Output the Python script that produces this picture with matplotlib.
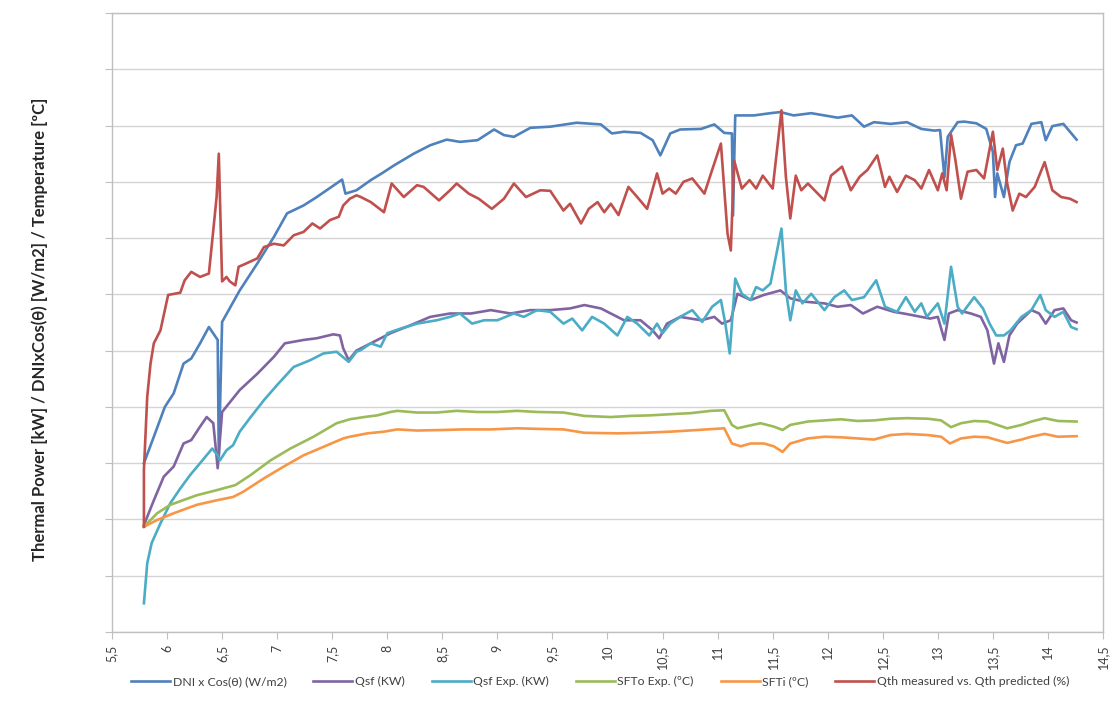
import matplotlib
matplotlib.use("Agg")
import matplotlib.pyplot as plt
from matplotlib.ticker import FuncFormatter, MultipleLocator

plt.rcParams['font.family'] = ['Lato', 'DejaVu Sans']

# time of day [h] and values for each series
t_dni = [5.79, 5.88, 5.98, 6.06, 6.15, 6.22, 6.30, 6.38, 6.46, 6.47, 6.50, 6.66, 6.82, 6.97, 7.09, 7.24,
         7.36, 7.59, 7.62, 7.72, 7.85, 7.95, 8.06, 8.24, 8.39, 8.54, 8.66, 8.82, 8.97, 9.06, 9.15, 9.30,
         9.48, 9.72, 9.94, 10.04, 10.15, 10.30, 10.41, 10.48, 10.57, 10.66, 10.85, 10.97, 11.06, 11.13,
         11.14, 11.16, 11.33, 11.48, 11.57, 11.69, 11.85, 11.97, 12.09, 12.22, 12.33, 12.42, 12.57, 12.72,
         12.85, 12.97, 13.02, 13.06, 13.09, 13.18, 13.24, 13.35, 13.44, 13.50, 13.52, 13.54, 13.60, 13.65,
         13.71, 13.77, 13.85, 13.94, 13.98, 14.04, 14.14, 14.20, 14.26]
dni = [300, 347, 400, 424, 477, 486, 513, 542, 519, 310, 551, 607, 655, 702, 744, 758,
       773, 804, 779, 785, 803, 815, 829, 850, 865, 875, 871, 874, 893, 883, 880, 896,
       898, 905, 902, 886, 889, 887, 874, 847, 886, 893, 894, 902, 887, 886,
       740, 918, 918, 922, 924, 918, 922, 918, 914, 918, 898, 906, 903, 906,
       894, 891, 892, 808, 880, 906, 907, 904, 894, 853, 773, 815, 773, 835,
       865, 868, 903, 906, 874, 899, 903, 889, 875]

t_qsf = [5.79, 5.88, 5.97, 6.06, 6.15, 6.22, 6.30, 6.36, 6.42, 6.46, 6.50, 6.66, 6.82, 6.97, 7.07, 7.24,
         7.36, 7.51, 7.57, 7.60, 7.65, 7.72, 7.85, 8.03, 8.21, 8.39, 8.57, 8.76, 8.94, 9.12, 9.30, 9.48,
         9.66, 9.79, 9.94, 10.03, 10.15, 10.30, 10.41, 10.47, 10.54, 10.66, 10.85, 10.97, 11.04, 11.12,
         11.18, 11.30, 11.42, 11.57, 11.66, 11.79, 11.97, 12.09, 12.21, 12.32, 12.45, 12.60, 12.69, 12.85,
         12.93, 13.00, 13.06, 13.10, 13.18, 13.30, 13.39, 13.45, 13.51, 13.55, 13.60, 13.65, 13.72, 13.85,
         13.92, 13.98, 14.06, 14.14, 14.21, 14.26]
qsf = [190, 234, 276, 294, 335, 341, 365, 382, 371, 291, 391, 430, 459, 489, 513, 519,
       522, 529, 527, 504, 483, 500, 513, 531, 545, 560, 566, 566, 572, 566, 572, 572,
       575, 581, 575, 566, 554, 554, 536, 522, 548, 560, 554, 560, 548, 554,
       601, 590, 599, 607, 593, 587, 584, 578, 581, 566, 578, 569, 566, 560,
       557, 560, 519, 566, 572, 566, 560, 536, 477, 513, 480, 527, 548, 572,
       566, 548, 572, 575, 554, 550]

t_qsf_exp = [5.79, 5.82, 5.86, 5.94, 6.03, 6.12, 6.21, 6.30, 6.41, 6.46, 6.48, 6.54, 6.60, 6.66, 6.76,
             6.88, 7.00, 7.15, 7.30, 7.42, 7.54, 7.65, 7.72, 7.76, 7.85, 7.94, 8.00, 8.12, 8.27, 8.45,
             8.57, 8.66, 8.77, 8.88, 9.00, 9.15, 9.24, 9.36, 9.48, 9.60, 9.68, 9.77, 9.86, 9.97, 10.09,
             10.18, 10.27, 10.38, 10.45, 10.50, 10.57, 10.66, 10.77, 10.86, 10.95, 11.03, 11.07, 11.11,
             11.16, 11.22, 11.30, 11.35, 11.41, 11.48, 11.58, 11.62, 11.66, 11.71, 11.77, 11.85, 11.97,
             12.06, 12.15, 12.22, 12.33, 12.44, 12.52, 12.63, 12.71, 12.79, 12.85, 12.90, 13.00, 13.06,
             13.12, 13.18, 13.22, 13.33, 13.41, 13.47, 13.53, 13.60, 13.66, 13.76, 13.85, 13.93, 13.98,
             14.06, 14.14, 14.21, 14.26]
qsf_exp = [51, 122, 158, 193, 229, 255, 279, 300, 326, 314, 305, 323, 332, 356, 382,
           412, 439, 471, 483, 495, 498, 480, 498, 501, 513, 507, 531, 539, 548, 554,
           560, 566, 548, 554, 554, 566, 560, 572, 569, 548, 557, 536, 560, 548, 527,
           560, 548, 527, 548, 531, 548, 560, 572, 551, 578, 590, 548, 495,
           628, 601, 590, 613, 607, 619, 717, 607, 554, 607, 584, 601, 572,
           595, 607, 590, 595, 625, 578, 569, 595, 569, 584, 560, 584, 548,
           649, 578, 566, 595, 575, 548, 527, 527, 536, 560, 572, 599, 572,
           560, 569, 542, 538]

t_sfto = [5.79, 5.91, 6.03, 6.27, 6.45, 6.62, 6.76, 6.94, 7.12, 7.33, 7.54, 7.66, 7.79, 7.91, 8.03,
          8.09, 8.27, 8.45, 8.63, 8.82, 9.00, 9.18, 9.36, 9.60, 9.79, 10.03, 10.21, 10.39, 10.57,
          10.76, 10.94, 11.06, 11.13, 11.18, 11.27, 11.39, 11.51, 11.59, 11.66, 11.82, 11.97, 12.12,
          12.27, 12.42, 12.57, 12.72, 12.91, 13.03, 13.12, 13.21, 13.33, 13.45, 13.54, 13.63, 13.76,
          13.85, 13.97, 14.09, 14.26]
sfto = [187, 211, 226, 243, 252, 261, 279, 305, 326, 347, 371, 378, 382, 385, 391,
        393, 390, 390, 393, 391, 391, 393, 391, 390, 384, 382, 384, 385, 387,
        389, 393, 394, 368, 362, 366, 371, 365, 359, 368, 374, 376, 378,
        375, 376, 379, 380, 379, 376, 364, 371, 375, 374, 368, 362, 368,
        374, 380, 375, 374]

t_sfti = [5.79, 5.91, 6.06, 6.27, 6.45, 6.60, 6.69, 6.88, 7.06, 7.24, 7.42, 7.60, 7.66, 7.82, 7.97,
          8.09, 8.27, 8.51, 8.69, 8.94, 9.18, 9.36, 9.60, 9.79, 10.09, 10.33, 10.57, 10.82, 11.06,
          11.13, 11.21, 11.30, 11.42, 11.51, 11.59, 11.66, 11.82, 11.97, 12.12, 12.27, 12.42, 12.57,
          12.72, 12.91, 13.03, 13.11, 13.21, 13.33, 13.45, 13.54, 13.63, 13.76, 13.85, 13.97, 14.09,
          14.26]
sfti = [187, 199, 211, 226, 234, 240, 249, 273, 294, 314, 329, 344, 347, 353, 356,
        360, 358, 359, 360, 360, 362, 361, 360, 354, 353, 354, 356, 359, 362,
        335, 330, 335, 335, 330, 320, 335, 344, 347, 346, 344, 342, 350,
        352, 350, 347, 335, 344, 347, 346, 341, 336, 342, 347, 352, 347,
        348]

t_qth = [5.79, 5.79, 5.82, 5.85, 5.88, 5.94, 6.01, 6.12, 6.16, 6.22, 6.30, 6.38, 6.42, 6.45, 6.47,
         6.50, 6.54, 6.57, 6.62, 6.65, 6.72, 6.82, 6.88, 6.97, 7.06, 7.15, 7.24, 7.32, 7.39, 7.48,
         7.56, 7.60, 7.66, 7.72, 7.76, 7.85, 7.97, 8.04, 8.15, 8.27, 8.33, 8.47, 8.57, 8.63, 8.74,
         8.83, 8.95, 9.06, 9.15, 9.26, 9.39, 9.48, 9.60, 9.66, 9.76, 9.83, 9.91, 9.97, 10.03, 10.10,
         10.19, 10.27, 10.36, 10.45, 10.50, 10.56, 10.62, 10.69, 10.77, 10.88, 10.95, 11.03, 11.09,
         11.12, 11.15, 11.22, 11.29, 11.35, 11.41, 11.50, 11.58, 11.62, 11.66, 11.71, 11.76, 11.82,
         11.88, 11.97, 12.03, 12.13, 12.21, 12.29, 12.36, 12.45, 12.52, 12.56, 12.63, 12.71, 12.79,
         12.85, 12.92, 13.00, 13.04, 13.08, 13.12, 13.16, 13.21, 13.27, 13.35, 13.42, 13.50, 13.54,
         13.59, 13.63, 13.68, 13.74, 13.80, 13.88, 13.97, 14.04, 14.12, 14.20, 14.26]
qth = [187, 288, 418, 477, 513, 536, 599, 603, 625, 640, 631, 637, 714, 773, 850,
       623, 631, 623, 616, 649, 655, 664, 684, 690, 687, 705, 711, 726, 717, 732,
       738, 758, 770, 776, 773, 764, 746, 797, 773, 794, 791, 767, 785, 797, 779,
       770, 752, 770, 797, 773, 785, 784, 749, 761, 726, 752, 764, 746, 761, 741,
       791, 773, 752, 815, 779, 788, 779, 800, 806, 779, 821, 868, 708,
       678, 838, 788, 803, 788, 811, 788, 927, 809, 735, 811, 785, 797,
       785, 767, 811, 827, 785, 809, 821, 847, 791, 809, 782, 811, 803,
       788, 821, 785, 815, 785, 884, 838, 770, 818, 821, 806, 889, 821,
       859, 797, 749, 779, 773, 791, 835, 785, 773, 770, 764]

series = [
    (t_dni, dni, "DNI x Cos(θ) (W/m2)", "#4F81BD"),
    (t_qsf, qsf, "Qsf (KW)", "#8064A2"),
    (t_qsf_exp, qsf_exp, "Qsf Exp. (KW)", "#4BACC6"),
    (t_sfto, sfto, "SFTo Exp. (ºC)", "#9BBB59"),
    (t_sfti, sfti, "SFTi (ºC)", "#F79646"),
    (t_qth, qth, "Qth measured vs. Qth predicted (%)", "#C0504D"),
]

fig = plt.figure(figsize=(11.11, 7.15), dpi=100)
ax = fig.add_axes([0.1008, 0.1161, 0.892, 0.8657])

for t, v, name, color in series:
    ax.plot(t, v, color=color, lw=1.9, label=name)

ax.set_xlim(5.5, 14.5)
ax.set_ylim(0, 1100)
ax.xaxis.set_major_locator(MultipleLocator(0.5))
ax.yaxis.set_major_locator(MultipleLocator(100))
ax.xaxis.set_major_formatter(FuncFormatter(lambda v, p: f"{v:g}".replace(".", ",")))
ax.yaxis.set_major_formatter(FuncFormatter(lambda v, p: ""))
ax.tick_params(axis="x", labelrotation=90, labelsize=9, colors="#404040",
               color="#BFBFBF", length=5, pad=4)
ax.tick_params(axis="y", color="#BFBFBF", length=5)
ax.grid(axis="y", color="#D4D4D4", lw=1.0)
ax.set_axisbelow(True)
for s in ax.spines.values():
    s.set_color("#BFBFBF")
    s.set_linewidth(1.0)

fig.text(0.036, 0.54, "Thermal Power [kW] / DNIxCos(θ) [W/m2] / Temperature [ºC]",
         rotation=90, ha="center", va="center", fontsize=12, fontweight="bold",
         color="#262626")

fig.legend(loc="center left", bbox_to_anchor=(0.108, 0.047), ncol=6, frameon=False,
           fontsize=8.8, handlelength=3.2, columnspacing=2.2, handletextpad=0.2,
           labelcolor="#404040")

fig.savefig("out.png", dpi=100)
